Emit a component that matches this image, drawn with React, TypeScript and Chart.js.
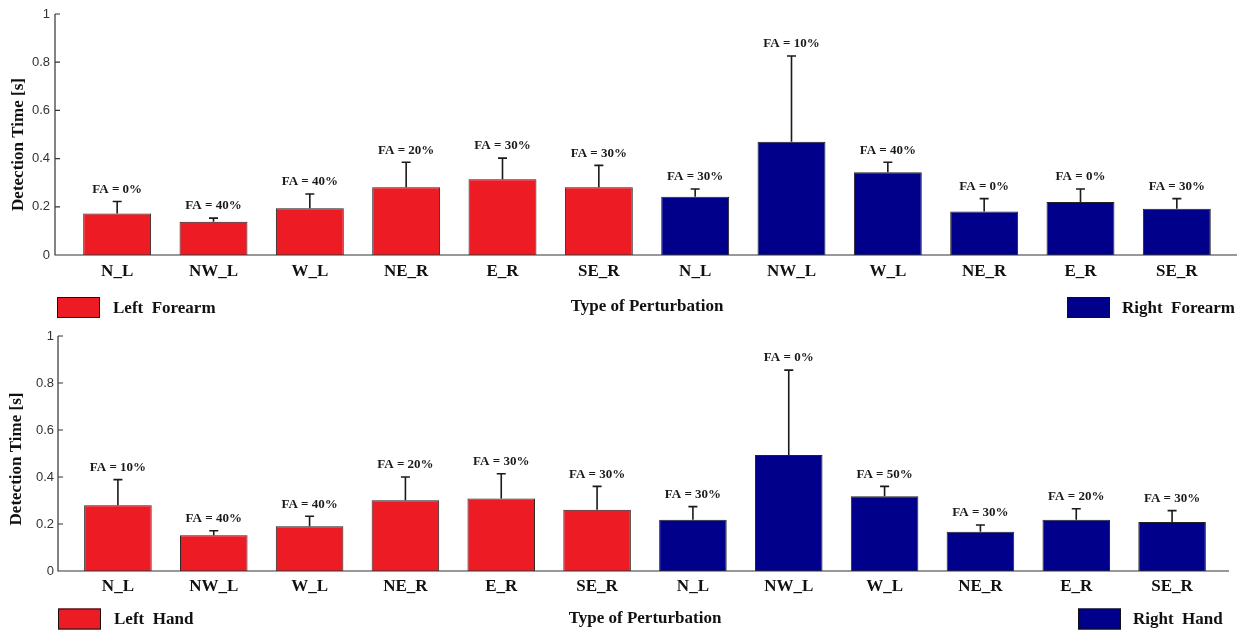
import React, { useEffect, useRef } from "react";
import { Chart, registerables } from "chart.js";

Chart.register(...registerables);

// ---------- data ----------
const categories = ["N_L", "NW_L", "W_L", "NE_R", "E_R", "SE_R", "N_L", "NW_L", "W_L", "NE_R", "E_R", "SE_R"];

const forearmLeftMean = [0.172, 0.138, 0.194, 0.281, 0.314, 0.281];
const forearmLeftErr = [0.05, 0.015, 0.059, 0.104, 0.088, 0.091];
const forearmRightMean = [0.242, 0.47, 0.343, 0.18, 0.22, 0.192];
const forearmRightErr = [0.032, 0.356, 0.042, 0.054, 0.054, 0.042];
const forearmFA = ["FA = 0%", "FA = 40%", "FA = 40%", "FA = 20%", "FA = 30%", "FA = 30%", "FA = 30%", "FA = 10%", "FA = 40%", "FA = 0%", "FA = 0%", "FA = 30%"];

const handLeftMean = [0.28, 0.152, 0.19, 0.301, 0.309, 0.261];
const handLeftErr = [0.109, 0.019, 0.043, 0.099, 0.105, 0.099];
const handRightMean = [0.218, 0.494, 0.318, 0.167, 0.218, 0.209];
const handRightErr = [0.056, 0.361, 0.042, 0.029, 0.047, 0.048];
const handFA = ["FA = 10%", "FA = 40%", "FA = 40%", "FA = 20%", "FA = 30%", "FA = 30%", "FA = 30%", "FA = 0%", "FA = 50%", "FA = 30%", "FA = 20%", "FA = 30%"];

const yMin = 0;
const yMax = 1;
const yStep = 0.2;
const yTitle = "Detection Time [s]";
const xTitle = "Type of Perturbation";

// ---------- styles ----------
const RED = "#ED1C24";
const BLUE = "#00008B";
const SERIF = "'Liberation Serif', 'Times New Roman', serif";
const SANS = "'Liberation Sans', Arial, sans-serif";

type Layout = {
  height: number; yWidth: number; padRight: number; padTop: number; xHeight: number;
  axisGap: number; axisExt: number; yTickPad: number; yTitleX: number; yTitleShift: number;
  legendY: number; leftBoxX: number; rightTextX: number; xTitlePadBottom: number; xTickPad: number;
};

type Panel = {
  leftLabel: string; rightLabel: string;
  leftMean: number[]; leftErr: number[]; rightMean: number[]; rightErr: number[];
  fa: string[]; layout: Layout;
};

const panels: Panel[] = [
  {
    leftLabel: "Left  Forearm", rightLabel: "Right  Forearm",
    leftMean: forearmLeftMean, leftErr: forearmLeftErr,
    rightMean: forearmRightMean, rightErr: forearmRightErr, fa: forearmFA,
    layout: { height: 320, yWidth: 69, padRight: 14, padTop: 14, xHeight: 65, axisGap: 14, axisExt: 12, yTickPad: 19, yTitleX: 19, yTitleShift: 10, legendY: 307.5, leftBoxX: 57, rightTextX: 1122, xTitlePadBottom: 3, xTickPad: 6 },
  },
  {
    leftLabel: "Left  Hand", rightLabel: "Right  Hand",
    leftMean: handLeftMean, leftErr: handLeftErr,
    rightMean: handRightMean, rightErr: handRightErr, fa: handFA,
    layout: { height: 313, yWidth: 70, padRight: 19, padTop: 16, xHeight: 62, axisGap: 12, axisExt: 9, yTickPad: 16, yTitleX: 17, yTitleShift: 5.5, legendY: 299, leftBoxX: 58, rightTextX: 1133, xTitlePadBottom: 4, xTickPad: 5.5 },
  },
];

const decorPlugin = {
  id: "decor",
  afterDatasetsDraw(chart: any, _args: any, opts: any) {
    const { ctx, scales } = chart;
    const y = scales.y;
    ctx.save();
    chart.data.datasets.forEach((ds: any, d: number) => {
      const meta = chart.getDatasetMeta(d);
      meta.data.forEach((bar: any, i: number) => {
        const v = ds.data[i];
        if (v === null || v === undefined) return;
        const e = ds.errors[i];
        const topPx = y.getPixelForValue(v + e);
        const basePx = y.getPixelForValue(v);
        ctx.strokeStyle = "#1a1a1a";
        ctx.lineWidth = 1.6;
        ctx.beginPath();
        ctx.moveTo(bar.x, basePx);
        ctx.lineTo(bar.x, topPx);
        ctx.moveTo(bar.x - 4.5, topPx);
        ctx.lineTo(bar.x + 4.5, topPx);
        ctx.stroke();
        ctx.fillStyle = "#1a1a1a";
        ctx.font = `bold 13px ${SERIF}`;
        ctx.textAlign = "center";
        ctx.textBaseline = "middle";
        ctx.fillText(opts.fa[i], bar.x, topPx - 12);
      });
    });
    ctx.restore();
  },
  afterDraw(chart: any, _args: any, opts: any) {
    const { ctx, chartArea, scales } = chart;
    const y = scales.y;
    const L: Layout = opts.layout;
    const axisX = chartArea.left - L.axisGap;
    ctx.save();
    // axes
    ctx.strokeStyle = "#333";
    ctx.lineWidth = 1.2;
    ctx.beginPath();
    ctx.moveTo(axisX, chartArea.top);
    ctx.lineTo(axisX, chartArea.bottom);
    ctx.lineTo(chartArea.right + L.axisExt, chartArea.bottom);
    y.ticks.forEach((_t: any, i: number) => {
      const py = y.getPixelForTick(i);
      ctx.moveTo(axisX, py);
      ctx.lineTo(axisX + 5, py);
    });
    ctx.stroke();
    // y title
    ctx.fillStyle = "#111";
    ctx.font = `bold 17px ${SERIF}`;
    ctx.textAlign = "center";
    ctx.textBaseline = "middle";
    ctx.translate(L.yTitleX, (chartArea.top + chartArea.bottom) / 2 + L.yTitleShift);
    ctx.rotate(-Math.PI / 2);
    ctx.fillText(yTitle, 0, 0);
    ctx.setTransform(1, 0, 0, 1, 0, 0);
    // legend items
    const boxW = 43, boxH = 21;
    const dsL = chart.data.datasets[0];
    const dsR = chart.data.datasets[1];
    ctx.lineWidth = 1;
    ctx.strokeStyle = "#111";
    ctx.fillStyle = dsL.backgroundColor;
    ctx.fillRect(L.leftBoxX, L.legendY - boxH / 2, boxW, boxH);
    ctx.strokeRect(L.leftBoxX + 0.5, L.legendY - boxH / 2 + 0.5, boxW - 1, boxH - 1);
    ctx.fillStyle = dsR.backgroundColor;
    const rBoxX = L.rightTextX - 12 - boxW;
    ctx.fillRect(rBoxX, L.legendY - boxH / 2, boxW, boxH);
    ctx.strokeRect(rBoxX + 0.5, L.legendY - boxH / 2 + 0.5, boxW - 1, boxH - 1);
    ctx.fillStyle = "#111";
    ctx.font = `bold 17px ${SERIF}`;
    ctx.textAlign = "left";
    ctx.textBaseline = "middle";
    ctx.fillText(dsL.label, L.leftBoxX + boxW + 13, L.legendY + 1);
    ctx.fillText(dsR.label, L.rightTextX, L.legendY + 1);
    ctx.restore();
  },
};

function BarPanel({ panel }: { panel: Panel }) {
  const ref = useRef<HTMLCanvasElement>(null);
  useEffect(() => {
    const L = panel.layout;
    const half = panel.leftMean.length;
    const leftData = categories.map((_, i) => (i < half ? panel.leftMean[i] : null));
    const rightData = categories.map((_, i) => (i >= half ? panel.rightMean[i - half] : null));
    const leftErrs = categories.map((_, i) => (i < half ? panel.leftErr[i] : 0));
    const rightErrs = categories.map((_, i) => (i >= half ? panel.rightErr[i - half] : 0));
    const chart = new Chart(ref.current as HTMLCanvasElement, {
      type: "bar",
      data: {
        labels: categories,
        datasets: [
          { label: panel.leftLabel, data: leftData, backgroundColor: RED, borderColor: "#222", borderWidth: 1, errors: leftErrs } as any,
          { label: panel.rightLabel, data: rightData, backgroundColor: BLUE, borderColor: "#222", borderWidth: 1, errors: rightErrs } as any,
        ],
      },
      options: {
        responsive: false,
        animation: false,
        events: [],
        grouped: false,
        categoryPercentage: 1,
        barPercentage: 0.705,
        layout: { padding: { left: 0, right: L.padRight, top: L.padTop, bottom: 0 } },
        plugins: {
          legend: { display: false },
          tooltip: { enabled: false },
          decor: { fa: panel.fa, layout: L },
        } as any,
        scales: {
          x: {
            type: "category",
            offset: true,
            grid: { display: false, drawTicks: false },
            border: { display: false },
            ticks: {
              autoSkip: false, maxRotation: 0, padding: L.xTickPad, color: "#111",
              font: { family: SERIF, size: 17, weight: "bold" },
            },
            title: {
              display: true, text: xTitle, color: "#111",
              font: { family: SERIF, size: 17, weight: "bold" },
              padding: { top: 0, bottom: L.xTitlePadBottom },
            },
            afterFit: (s: any) => { s.height = L.xHeight; },
          },
          y: {
            min: yMin, max: yMax,
            grid: { display: false, drawTicks: false },
            border: { display: false },
            ticks: {
              stepSize: yStep, padding: L.yTickPad, color: "#333", font: { family: SANS, size: 13 },
              callback: (v: any) => String(Number(Number(v).toFixed(2))),
            },
            afterFit: (s: any) => { s.width = L.yWidth; s.paddingTop = 0; s.paddingBottom = 0; },
          },
        },
      } as any,
      plugins: [decorPlugin],
    });
    return () => chart.destroy();
  }, [panel]);
  return <canvas ref={ref} width={1239} height={panel.layout.height} style={{ display: "block" }} />;
}

export default function App() {
  return (
    <div style={{ position: "absolute", left: 0, top: 0, width: 1239, height: 633, background: "#fff" }}>
      {panels.map((p, i) => (
        <BarPanel key={i} panel={p} />
      ))}
    </div>
  );
}
